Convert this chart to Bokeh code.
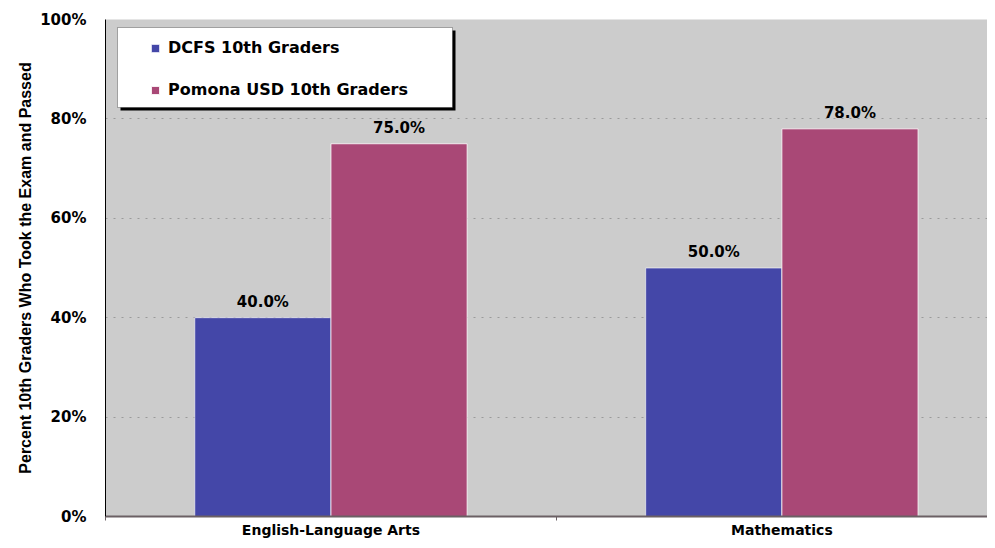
from bokeh.plotting import figure
from bokeh.models import (Range1d, FixedTicker, PrintfTickFormatter, ColumnDataSource,
                          LabelSet, Legend, LegendItem, Grid, BoxAnnotation)
from bokeh.core.properties import value
from bokeh.transform import dodge
from bokeh.embed import file_html
from bokeh.resources import INLINE

categories = ["English-Language Arts", "Mathematics"]
dcfs = [40.0, 50.0]
pomona = [75.0, 78.0]
series_names = ["DCFS 10th Graders", "Pomona USD 10th Graders"]
y_ticks = [0, 20, 40, 60, 80, 100]

BLUE = "#4447a8"
PINK = "#a94876"
FONT = "DejaVu Sans"

xpos = [i + 0.5 for i in range(len(categories))]
src = ColumnDataSource(dict(
    x=xpos, dcfs=dcfs, pomona=pomona,
    dcfs_lbl=["%.1f%%" % v for v in dcfs],
    pomona_lbl=["%.1f%%" % v for v in pomona],
))

p = figure(width=987, height=540, output_backend="svg", toolbar_location=None,
           x_range=Range1d(0, 1.956), y_range=Range1d(0, 100),
           min_border_left=105, min_border_top=19, min_border_bottom=20, min_border_right=0)
p.background_fill_color = "#cccccc"
p.border_fill_color = "white"
p.outline_line_color = None

bw = 0.302
r1 = p.vbar(x=dodge("x", -0.151, range=p.x_range), top="dcfs", width=bw, source=src,
            fill_color=BLUE, line_color="white", line_alpha=0.6, line_width=1)
r2 = p.vbar(x=dodge("x", 0.151, range=p.x_range), top="pomona", width=bw, source=src,
            fill_color=PINK, line_color="white", line_alpha=0.8, line_width=1)

for col, off in (("dcfs", -0.151), ("pomona", 0.151)):
    ls = LabelSet(x=dodge("x", off, range=p.x_range), y=col, text=col + "_lbl", source=src,
                  text_align="center", text_baseline="bottom", y_offset=7,
                  text_font=value(FONT), text_font_style="bold", text_font_size="15px",
                  text_color="black")
    p.add_layout(ls)

# grids
p.xgrid.visible = False
p.ygrid.ticker = FixedTicker(ticks=[20, 40, 60, 80])
p.ygrid.grid_line_color = "#9a9a9a"
p.ygrid.grid_line_dash = "2 6"
p.ygrid.grid_line_width = 1
top_grid = Grid(dimension=1, ticker=FixedTicker(ticks=[100]),
                grid_line_color="#e8e8e8", grid_line_dash="6 3", grid_line_width=1)
p.add_layout(top_grid)

# y axis
ya = p.yaxis[0]
ya.ticker = FixedTicker(ticks=y_ticks)
ya.formatter = PrintfTickFormatter(format="%d%%")
ya.major_tick_in = 0
ya.major_tick_out = 0
ya.minor_tick_line_color = None
ya.axis_line_color = "black"
ya.axis_line_width = 1
ya.major_label_standoff = 19
ya.major_label_text_font = FONT
ya.major_label_text_font_style = "bold"
ya.major_label_text_font_size = "15px"
ya.major_label_text_color = "black"
ya.axis_label = "Percent 10th Graders Who Took the Exam and Passed"
ya.axis_label_text_font = "Liberation Sans"
ya.axis_label_text_font_style = "bold"
ya.axis_label_text_font_size = "16px"
ya.axis_label_text_color = "black"
ya.axis_label_standoff = 3

# x axis
xa = p.xaxis[0]
xa.ticker = FixedTicker(ticks=xpos, minor_ticks=[0, 1, 2])
xa.major_label_overrides = {x: c for x, c in zip(xpos, categories)}
xa.major_tick_in = 0
xa.major_tick_out = 0
xa.minor_tick_in = 0
xa.minor_tick_out = 4
xa.minor_tick_line_color = "#6b6064"
xa.axis_line_color = "#6b6064"
xa.axis_line_width = 2
xa.major_label_standoff = 1
xa.major_label_text_font = FONT
xa.major_label_text_font_style = "bold"
xa.major_label_text_font_size = "14px"
xa.major_label_text_color = "black"

# legend box with shadow (screen units, relative to plot frame)
shadow = BoxAnnotation(left=15, right=350, bottom=406, top=486,
                       left_units="screen", right_units="screen",
                       bottom_units="screen", top_units="screen",
                       fill_color="black", fill_alpha=1, line_color=None)
box = BoxAnnotation(left=12, right=347, bottom=409, top=489,
                    left_units="screen", right_units="screen",
                    bottom_units="screen", top_units="screen",
                    fill_color="white", fill_alpha=1, line_color="black", line_width=1)
p.add_layout(shadow)
p.add_layout(box)

legend = Legend(items=[LegendItem(label=series_names[0], renderers=[r1]),
                       LegendItem(label=series_names[1], renderers=[r2])],
                location=(45, 417), padding=0, spacing=23, margin=0,
                glyph_width=10, glyph_height=10, label_height=19, label_standoff=8,
                label_text_font=FONT, label_text_font_style="bold",
                label_text_font_size="16px", label_text_color="black",
                border_line_color=None, background_fill_alpha=0)
p.add_layout(legend, "center")

open("out.html", "w").write(file_html(p, INLINE))
